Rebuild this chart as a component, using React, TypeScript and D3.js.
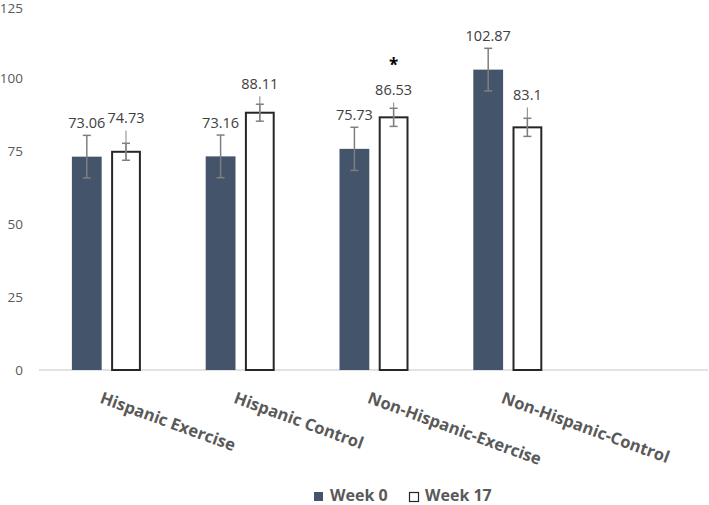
import * as d3 from 'd3';
import React from 'react';

const categories = ["Hispanic Exercise", "Hispanic Control", "Non-Hispanic-Exercise", "Non-Hispanic-Control", ""];
const groups = ["Week 0", "Week 17"];
const week0 = [73.06, 73.16, 75.73, 102.87];
const week17 = [74.73, 88.11, 86.53, 83.1];
const week0Err = [7.3, 7.3, 7.4, 7.3];
const week17Err = [2.9, 2.9, 3.1, 3.1];
const week17Upper = [7.3, 5.6, 5.1, 6.8];
const week17Sig = ["", "", "*", ""];
const yTicks = [0, 25, 50, 75, 100, 125];

const W = 709, H = 505;
const font = "'Open Sans', 'Noto Sans', sans-serif";

export default function App() {
  const x = d3.scaleBand().domain(categories).range([39, 708]).padding(0);
  const y = d3.scaleLinear().domain([0, 125]).range([370, 5]);
  const xSub = d3.scaleBand().domain(groups).range([-34, 35]).paddingInner(0.24);
  const bw = xSub.bandwidth();

  const bars = categories.slice(0, 4).map((c, i) => ({
    c, i,
    cx: (x(c) as number) + x.bandwidth() / 2,
  }));

  return (
    <svg width={W} height={H} style={{ position: 'absolute', left: 0, top: 0, background: '#fff' }}>
      {/* y tick labels */}
      {yTicks.map(t => (
        <text key={t} x={23} y={Math.max(y(t), 8)} dy="0.35em" textAnchor="end" fontFamily={font} fontSize={13.5} fill="#595959">{t}</text>
      ))}
      {/* baseline */}
      <line x1={39} x2={708} y1={y(0)} y2={y(0)} stroke="#d9d9d9" strokeWidth={1.5} />

      {bars.map(({ c, i, cx }) => {
        const x0 = cx + (xSub("Week 0") as number);
        const x1 = cx + (xSub("Week 17") as number);
        const v0 = week0[i], v1 = week17[i];
        const e0 = week0Err[i], e1 = week17Err[i], u1 = week17Upper[i];
        const ex0 = x0 + bw / 2, ex1 = x1 + bw / 2;
        return (
          <g key={c}>
            <rect x={x0} y={y(v0)} width={bw} height={y(0) - y(v0)} fill="#44546A" />
            <rect x={x1 + 1} y={y(v1)} width={bw - 2} height={y(0) - y(v1)} fill="#fff" stroke="#262626" strokeWidth={2} />
            {/* week 0 error bars */}
            <g stroke="#7f7f7f" strokeWidth={1.5}>
              <line x1={ex0} x2={ex0} y1={y(v0 - e0)} y2={y(v0 + e0)} />
              <line x1={ex0 - 4} x2={ex0 + 4} y1={y(v0 + e0)} y2={y(v0 + e0)} />
              <line x1={ex0 - 4} x2={ex0 + 4} y1={y(v0 - e0)} y2={y(v0 - e0)} />
            </g>
            {/* week 17 error bars */}
            <g stroke="#7f7f7f" strokeWidth={1.5}>
              <line x1={ex1} x2={ex1} y1={y(v1 - e1)} y2={y(v1 + u1)} strokeWidth={1.2} stroke="#999" />
              <line x1={ex1} x2={ex1} y1={y(v1 - e1)} y2={y(v1 + e1)} />
              <line x1={ex1 - 4} x2={ex1 + 4} y1={y(v1 + e1)} y2={y(v1 + e1)} />
              <line x1={ex1 - 4} x2={ex1 + 4} y1={y(v1 - e1)} y2={y(v1 - e1)} />
            </g>
            <text x={ex0} y={y(v0 + e0) - 7} textAnchor="middle" fontFamily={font} fontSize={14.5} fill="#404040">{v0}</text>
            <text x={ex1} y={y(v1 + u1) - 7} textAnchor="middle" fontFamily={font} fontSize={14.5} fill="#404040">{v1}</text>
            {week17Sig[i] && (
              <text x={ex1} y={y(v1 + u1) - 31} textAnchor="middle" fontFamily={font} fontSize={17} fontWeight="bold" fill="#000">{week17Sig[i]}</text>
            )}
            <text transform={`translate(${cx - 2},${389}) rotate(20)`} dominantBaseline="hanging" fontFamily={font} fontSize={16.5} fontWeight="bold" fill="#595959">{c}</text>
          </g>
        );
      })}

      {/* legend */}
      <rect x={314} y={492} width={9} height={9} fill="#44546A" />
      <text x={330} y={501} fontFamily={font} fontSize={16} fontWeight="bold" fill="#595959">{groups[0]}</text>
      <rect x={409.5} y={492.5} width={9} height={9} fill="#fff" stroke="#262626" strokeWidth={1.2} />
      <text x={425} y={501} fontFamily={font} fontSize={16} fontWeight="bold" fill="#595959">{groups[1]}</text>
    </svg>
  );
}
